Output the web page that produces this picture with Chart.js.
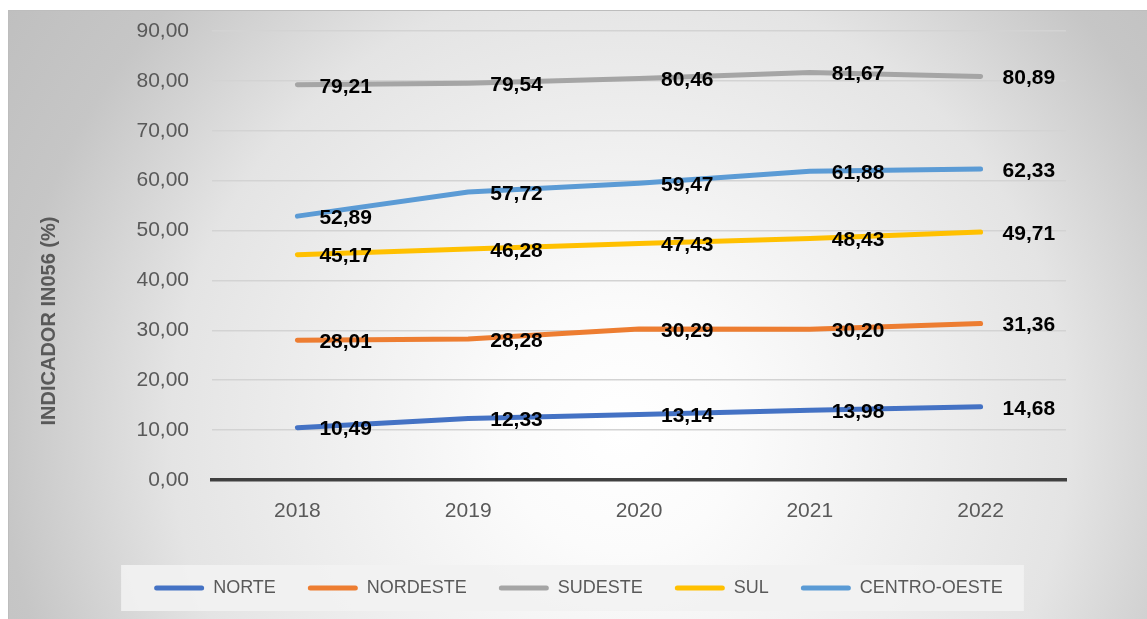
<!DOCTYPE html>
<html>
<head>
<meta charset="utf-8">
<script src="https://cdn.jsdelivr.net/npm/chart.js@4/dist/chart.umd.min.js"></script>
<style>
  body { margin: 0; background: #fff; }
  #panel {
    position: absolute; left: 8px; top: 10px; width: 1139px; height: 609px;
    box-sizing: border-box; border-top: 1px solid #bdbdbd; border-left: 1px solid #bdbdbd;
    background: radial-gradient(circle at 612px 420px, #ffffff 0px, #fbfbfb 120px, #e4e4e4 450px, #c6c6c6 620px, #bbbbbb 820px);
  }
  #wrap { position: absolute; left: 0; top: 0; width: 1139px; height: 609px; }
</style>
</head>
<body>
<div id="panel"><div id="wrap"><canvas id="chart"></canvas></div></div>
<script>
const years = ['2018', '2019', '2020', '2021', '2022'];
const norte = [10.49, 12.33, 13.14, 13.98, 14.68];
const nordeste = [28.01, 28.28, 30.29, 30.20, 31.36];
const sudeste = [79.21, 79.54, 80.46, 81.67, 80.89];
const sul = [45.17, 46.28, 47.43, 48.43, 49.71];
const centroOeste = [52.89, 57.72, 59.47, 61.88, 62.33];

const fmt = v => v.toFixed(2).replace('.', ',');
const FONT = '"Liberation Sans", Arial, sans-serif';

function serie(label, data, color) {
    return {
        label: label,
        data: data,
        borderColor: color,
        backgroundColor: color,
        borderWidth: 5,
        borderCapStyle: 'round',
        borderJoinStyle: 'round',
        pointRadius: 0,
        tension: 0,
        fill: false
    };
}

// data labels to the right of each point
const valueLabels = {
    id: 'valueLabels',
    afterDatasetsDraw(chart) {
        const ctx = chart.ctx;
        ctx.save();
        ctx.font = 'bold 21px ' + FONT;
        ctx.fillStyle = '#000';
        ctx.textAlign = 'left';
        ctx.textBaseline = 'middle';
        chart.data.datasets.forEach((ds, i) => {
            chart.getDatasetMeta(i).data.forEach((pt, j) => {
                ctx.fillText(fmt(ds.data[j]), pt.x + 22, pt.y + 2);
            });
        });
        ctx.restore();
    }
};

// legend panel + axis title
const extras = {
    id: 'extras',
    beforeDraw(chart) {
        const boxes = chart.legend.legendHitBoxes;
        if (!boxes || !boxes.length) return;
        const first = boxes[0], last = boxes[boxes.length - 1];
        const cy = first.top + first.height / 2;
        const ctx = chart.ctx;
        ctx.save();
        ctx.fillStyle = 'rgba(242,242,242,0.9)';
        ctx.fillRect(first.left - 33, cy - 23, last.left + last.width - first.left + 54, 46);
        ctx.restore();
    },
    afterDraw(chart) {
        const ctx = chart.ctx;
        ctx.save();
        ctx.translate(40, 310);
        ctx.rotate(-Math.PI / 2);
        ctx.font = 'bold 20px ' + FONT;
        ctx.fillStyle = '#595959';
        ctx.textAlign = 'center';
        ctx.textBaseline = 'middle';
        ctx.fillText('INDICADOR IN056 (%)', 0, 0);
        ctx.restore();
    }
};

new Chart(document.getElementById('chart'), {
    type: 'line',
    data: {
        labels: years,
        datasets: [
            serie('NORTE', norte, '#4472C4'),
            serie('NORDESTE', nordeste, '#ED7D31'),
            serie('SUDESTE', sudeste, '#A5A5A5'),
            serie('SUL', sul, '#FFC000'),
            serie('CENTRO-OESTE', centroOeste, '#5B9BD5')
        ]
    },
    options: {
        responsive: true,
        maintainAspectRatio: false,
        animation: false,
        layout: { padding: { top: 20, right: 0, left: 0, bottom: 13 } },
        plugins: {
            tooltip: { enabled: false },
            legend: {
                position: 'bottom',
                labels: {
                    boxWidth: 50,
                    boxHeight: 5,
                    padding: 32,
                    useBorderRadius: true,
                    borderRadius: 2.5,
                    color: '#595959',
                    font: { family: FONT, size: 18 },
                    generateLabels(chart) {
                        return chart.data.datasets.map((ds, i) => ({
                            text: ds.label,
                            fillStyle: ds.borderColor,
                            strokeStyle: ds.borderColor,
                            lineWidth: 0,
                            fontColor: '#595959',
                            borderRadius: 2.5,
                            hidden: false,
                            datasetIndex: i
                        }));
                    }
                }
            }
        },
        scales: {
            x: {
                offset: true,
                grid: { display: false, drawTicks: false },
                border: { display: true, color: '#404040', width: 3.5 },
                ticks: { color: '#595959', padding: 19, font: { family: FONT, size: 21 } },
                afterFit(s) { s.height = 67; }
            },
            y: {
                min: 0,
                max: 90,
                ticks: {
                    stepSize: 10,
                    color: '#595959',
                    padding: 23,
                    font: { family: FONT, size: 21 },
                    callback: v => fmt(v)
                },
                grid: {
                    drawTicks: false,
                    lineWidth: 1.5,
                    color: c => (c.tick && c.tick.value === 0) ? 'rgba(0,0,0,0)' : '#d3d3d3'
                },
                border: { display: false },
                afterFit(s) {
                    s.width = 203;
                    s.paddingTop = 12;
                    s.paddingBottom = 12;
                }
            },
            y2: {
                position: 'right',
                display: true,
                grid: { display: false, drawTicks: false },
                border: { display: false },
                ticks: { display: false },
                afterFit(s) { s.width = 82; }
            }
        }
    },
    plugins: [valueLabels, extras]
});
</script>
</body>
</html>
